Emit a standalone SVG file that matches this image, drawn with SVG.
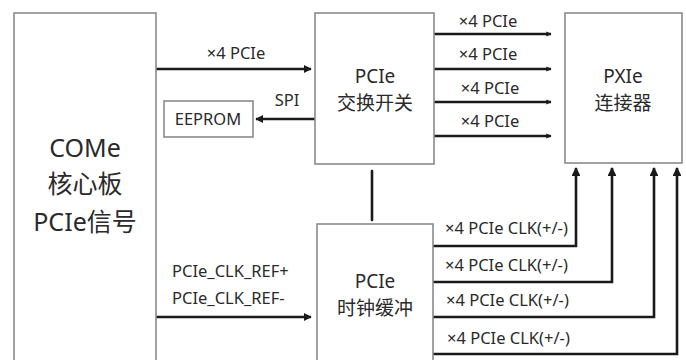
<svg xmlns="http://www.w3.org/2000/svg" width="686" height="360" viewBox="0 0 686 360">
<defs>
<style>
.box{fill:#fff;stroke:#8a8a8a;stroke-width:1.6}
.ln{fill:none;stroke:#1a1a1a;stroke-width:2.6}
.t{font-family:"Noto Sans","Noto Sans CJK SC",sans-serif;fill:#2a2a2a;text-anchor:middle}
.s{font-size:16.5px}
.m{font-size:19px}
.l{font-size:25px}
.st{text-anchor:start}
</style>
<marker id="ah" viewBox="0 0 10 10" refX="9" refY="5" markerWidth="3" markerHeight="3" orient="auto" markerUnits="strokeWidth">
<path d="M0,0 L10,5 L0,10 z" fill="#1a1a1a"/>
</marker>
<marker id="as" viewBox="0 0 10 10" refX="9" refY="5" markerWidth="2" markerHeight="2" orient="auto" markerUnits="strokeWidth">
<path d="M0,0 L10,5 L0,10 z" fill="#1a1a1a"/>
</marker>
<marker id="au" viewBox="0 0 10 10" refX="9" refY="5" markerWidth="6" markerHeight="3.4" orient="auto" markerUnits="strokeWidth">
<path d="M0,0 L10,5 L0,10 z" fill="#1a1a1a"/>
</marker>
</defs>
<rect width="686" height="360" fill="#fff"/>
<g id="connectors">
<line class="ln" x1="156" y1="69" x2="311" y2="69" marker-end="url(#ah)"/>
<line class="ln" x1="315" y1="119" x2="256" y2="119" marker-end="url(#ah)"/>
<line class="ln" x1="434" y1="34" x2="551" y2="34" marker-end="url(#as)"/>
<line class="ln" x1="434" y1="69" x2="551" y2="69" marker-end="url(#as)"/>
<line class="ln" x1="434" y1="102" x2="551" y2="102" marker-end="url(#as)"/>
<line class="ln" x1="434" y1="136" x2="551" y2="136" marker-end="url(#as)"/>
<line class="ln" x1="372" y1="171" x2="372" y2="220" stroke-linecap="round"/>
<line class="ln" x1="156" y1="317" x2="311" y2="317" marker-end="url(#ah)"/>
<polyline class="ln" points="433,246 576,246 576,168" marker-end="url(#au)"/>
<polyline class="ln" points="433,282 612,282 612,168" marker-end="url(#au)"/>
<polyline class="ln" points="433,317 654,317 654,168" marker-end="url(#au)"/>
<polyline class="ln" points="433,354 677,354 677,168" marker-end="url(#au)"/>
<text class="t s" x="236" y="59">×4 PCIe</text>
<text class="t s" x="287" y="106">SPI</text>
<text class="t s" x="488" y="27">×4 PCIe</text>
<text class="t s" x="488" y="60">×4 PCIe</text>
<text class="t s" x="490" y="94">×4 PCIe</text>
<text class="t s" x="490" y="127">×4 PCIe</text>
<text class="t s st" x="445" y="234">×4 PCIe CLK(+/-)</text>
<text class="t s st" x="445" y="271">×4 PCIe CLK(+/-)</text>
<text class="t s st" x="446" y="306">×4 PCIe CLK(+/-)</text>
<text class="t s st" x="447" y="344">×4 PCIe CLK(+/-)</text>
<text class="t s st" x="172" y="277">PCIe_CLK_REF+</text>
<text class="t s st" x="172" y="304">PCIe_CLK_REF-</text>
</g>
<g id="come">
<rect class="box" x="14" y="13" width="142" height="360"/>
<text class="t l" x="85" y="157">COMe</text>
<text class="t l" x="85" y="193">核心板</text>
<text class="t l" x="85" y="231">PCIe信号</text>
</g>
<g id="eeprom">
<rect class="box" x="164" y="101" width="89" height="36"/>
<text class="t s" x="208" y="125">EEPROM</text>
</g>
<g id="switch">
<rect class="box" x="315" y="13" width="119" height="151"/>
<text class="t m" x="375" y="83">PCIe</text>
<text class="t m" x="375" y="110">交换开关</text>
</g>
<g id="pxie">
<rect class="box" x="565" y="13" width="117" height="150"/>
<text class="t m" x="623" y="83">PXIe</text>
<text class="t m" x="623" y="110">连接器</text>
</g>
<g id="clock">
<rect class="box" x="317" y="224" width="116" height="150"/>
<text class="t m" x="375" y="288">PCIe</text>
<text class="t m" x="375" y="315">时钟缓冲</text>
</g>
</svg>
